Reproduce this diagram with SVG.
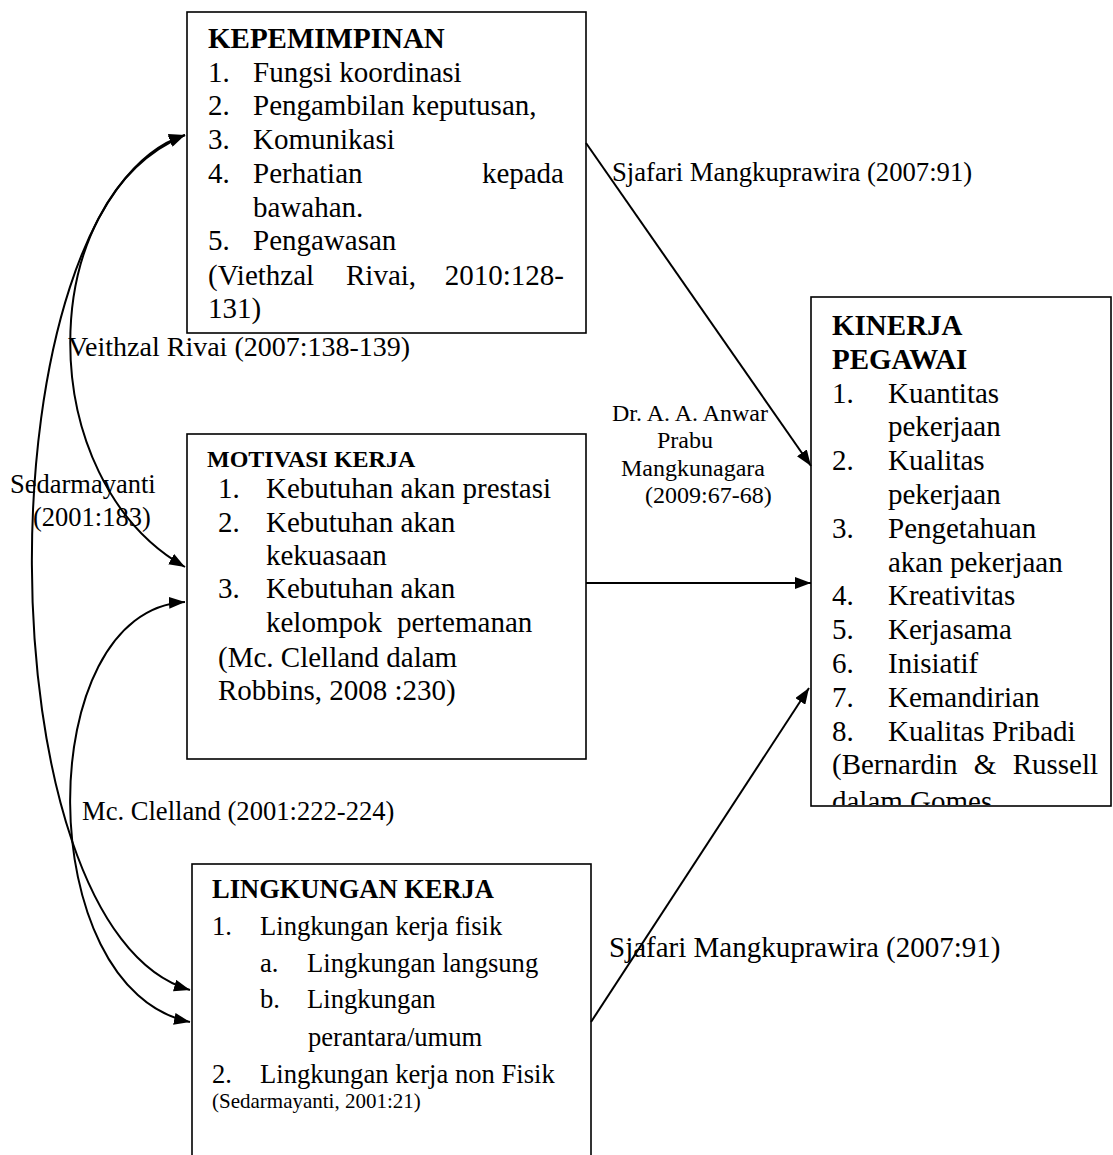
<svg xmlns="http://www.w3.org/2000/svg" width="1113" height="1155" viewBox="0 0 1113 1155">
<style>
text{font-family:"Liberation Serif","Times New Roman",serif;fill:#000}
.b{font-weight:bold}
.t29{font-size:29px}
.t26{font-size:26.6px}
.box{fill:#fff;stroke:#000;stroke-width:1.6}
.con{fill:none;stroke:#000;stroke-width:2}
</style>
<defs>
<marker id="ah" markerUnits="userSpaceOnUse" markerWidth="16" markerHeight="12" refX="16" refY="6" orient="auto-start-reverse">
<path d="M0,0 L16,6 L0,12 z" fill="#000"/>
</marker>
<clipPath id="kclip"><rect x="812" y="298" width="300" height="507"/></clipPath>
</defs>

<g id="kepemimpinan">
<rect class="box" x="187" y="12" width="399" height="321"/>
<text class="b t29" x="208" y="48">KEPEMIMPINAN</text>
<text class="t29" x="208" y="82">1.</text><text class="t29" x="253" y="82">Fungsi koordinasi</text>
<text class="t29" x="208" y="115">2.</text><text class="t29" x="253" y="115">Pengambilan keputusan,</text>
<text class="t29" x="208" y="149">3.</text><text class="t29" x="253" y="149">Komunikasi</text>
<text class="t29" x="208" y="183">4.</text><text class="t29" x="253" y="183">Perhatian</text><text class="t29" x="564" y="183" text-anchor="end">kepada</text>
<text class="t29" x="253" y="217">bawahan.</text>
<text class="t29" x="208" y="250">5.</text><text class="t29" x="253" y="250">Pengawasan</text>
<text class="t29" x="208" y="285">(Viethzal</text><text class="t29" x="346" y="285">Rivai,</text><text class="t29" x="564" y="285" text-anchor="end">2010:128-</text>
<text class="t29" x="208" y="318">131)</text>
</g>

<g id="motivasi">
<rect class="box" x="187" y="434" width="399" height="325"/>
<text class="b" font-size="24" x="207" y="467">MOTIVASI KERJA</text>
<text class="t29" x="218" y="498">1.</text><text class="t29" x="266" y="498">Kebutuhan akan prestasi</text>
<text class="t29" x="218" y="532">2.</text><text class="t29" x="266" y="532">Kebutuhan akan</text>
<text class="t29" x="266" y="565">kekuasaan</text>
<text class="t29" x="218" y="598">3.</text><text class="t29" x="266" y="598">Kebutuhan akan</text>
<text class="t29" x="266" y="632">kelompok</text><text class="t29" x="397" y="632">pertemanan</text>
<text class="t29" x="218" y="667">(Mc. Clelland dalam</text>
<text class="t29" x="218" y="700">Robbins, 2008 :230)</text>
</g>

<g id="lingkungan">
<rect class="box" x="192" y="864" width="399" height="300"/>
<text class="b" font-size="26.5" x="212" y="898">LINGKUNGAN KERJA</text>
<text class="t26" x="212" y="935">1.</text><text class="t26" x="260" y="935">Lingkungan kerja fisik</text>
<text class="t26" x="260" y="972">a.</text><text class="t26" x="307" y="972">Lingkungan langsung</text>
<text class="t26" x="260" y="1008">b.</text><text class="t26" x="307" y="1008">Lingkungan</text>
<text class="t26" x="308" y="1046">perantara/umum</text>
<text class="t26" x="212" y="1083">2.</text><text class="t26" x="260" y="1083">Lingkungan kerja non Fisik</text>
<text font-size="21" x="212" y="1108">(Sedarmayanti, 2001:21)</text>
</g>

<g id="kinerja">
<rect class="box" x="811" y="297" width="300" height="509"/>
<g clip-path="url(#kclip)">
<text class="b t29" x="832" y="335">KINERJA</text>
<text class="b t29" x="832" y="369">PEGAWAI</text>
<text class="t29" x="832" y="403">1.</text><text class="t29" x="888" y="403">Kuantitas</text>
<text class="t29" x="888" y="436">pekerjaan</text>
<text class="t29" x="832" y="470">2.</text><text class="t29" x="888" y="470">Kualitas</text>
<text class="t29" x="888" y="504">pekerjaan</text>
<text class="t29" x="832" y="538">3.</text><text class="t29" x="888" y="538">Pengetahuan</text>
<text class="t29" x="888" y="572">akan pekerjaan</text>
<text class="t29" x="832" y="605">4.</text><text class="t29" x="888" y="605">Kreativitas</text>
<text class="t29" x="832" y="639">5.</text><text class="t29" x="888" y="639">Kerjasama</text>
<text class="t29" x="832" y="673">6.</text><text class="t29" x="888" y="673">Inisiatif</text>
<text class="t29" x="832" y="707">7.</text><text class="t29" x="888" y="707">Kemandirian</text>
<text class="t29" x="832" y="741">8.</text><text class="t29" x="888" y="741">Kualitas Pribadi</text>
<text class="t29" x="832" y="774" word-spacing="9">(Bernardin &amp; Russell</text>
<text class="t29" x="832" y="811">dalam Gomes</text>
</g>
</g>

<g id="connectors">
<path class="con" d="M586,143 L811,466" marker-end="url(#ah)"/>
<path class="con" d="M586,583 L811,583" marker-end="url(#ah)"/>
<path class="con" d="M591,1022 L809,688" marker-end="url(#ah)"/>
<path class="con" d="M185,135 C32,200 32,480 185,567" marker-start="url(#ah)" marker-end="url(#ah)"/>
<path class="con" d="M185,135 C-20,200 -20,930 190,990" marker-start="url(#ah)" marker-end="url(#ah)"/>
<path class="con" d="M185,602 C31,610 31,990 190,1022" marker-start="url(#ah)" marker-end="url(#ah)"/>
</g>

<g id="labels">
<text font-size="26.7" x="612" y="181">Sjafari Mangkuprawira (2007:91)</text>
<text font-size="28" x="68" y="356">Veithzal Rivai (2007:138-139)</text>
<text font-size="24" x="690" y="421" text-anchor="middle">Dr. A. A. Anwar</text>
<text font-size="24" x="685" y="448" text-anchor="middle">Prabu</text>
<text font-size="24" x="693" y="476" text-anchor="middle">Mangkunagara</text>
<text font-size="24" x="645" y="503">(2009:67-68)</text>
<text font-size="26.5" x="10" y="493">Sedarmayanti</text>
<text font-size="26.5" x="33" y="526">(2001:183)</text>
<text font-size="26.6" x="82" y="820">Mc. Clelland (2001:222-224)</text>
<text class="t29" x="609" y="957">Sjafari Mangkuprawira (2007:91)</text>
</g>
</svg>
